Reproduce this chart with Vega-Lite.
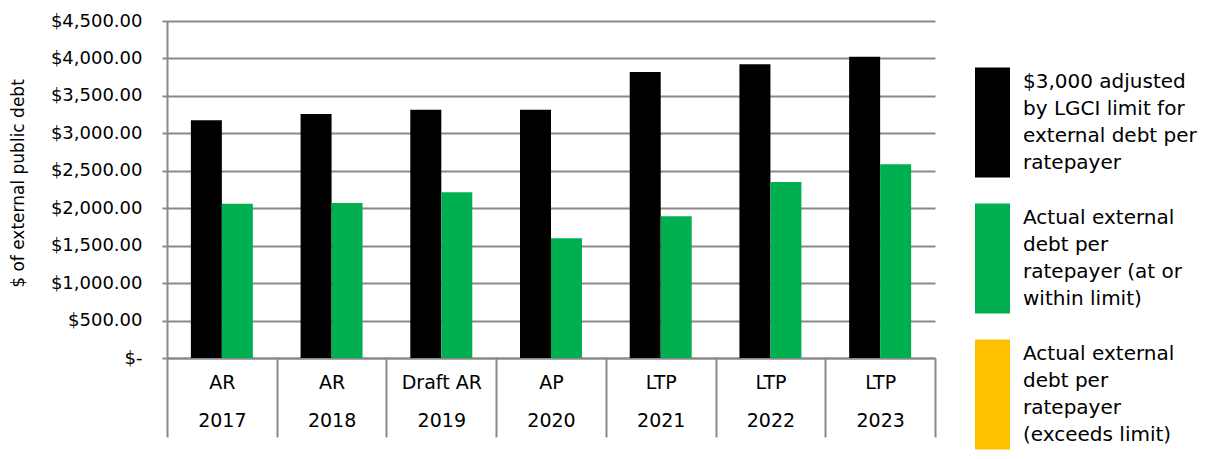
{
  "$schema": "https://vega.github.io/schema/vega-lite/v6.json",
  "width": 768,
  "height": 337,
  "autosize": {"type": "none"},
  "padding": {"left": 167, "top": 21, "right": 271, "bottom": 101},
  "background": "white",
  "config": {"view": {"stroke": null}, "style": {"guide-label": {"lineHeight": 27}}},
  "data": {
    "values": [
      {"year": "2017", "series": "limit", "value": 3174},
      {"year": "2017", "series": "within", "value": 2060},
      {"year": "2018", "series": "limit", "value": 3258},
      {"year": "2018", "series": "within", "value": 2070},
      {"year": "2019", "series": "limit", "value": 3316},
      {"year": "2019", "series": "within", "value": 2213},
      {"year": "2020", "series": "limit", "value": 3316},
      {"year": "2020", "series": "within", "value": 1600},
      {"year": "2021", "series": "limit", "value": 3819},
      {"year": "2021", "series": "within", "value": 1892},
      {"year": "2022", "series": "limit", "value": 3922},
      {"year": "2022", "series": "within", "value": 2350},
      {"year": "2023", "series": "limit", "value": 4023},
      {"year": "2023", "series": "within", "value": 2587}
    ]
  },
  "mark": {"type": "bar"},
  "encoding": {
    "x": {
      "field": "year",
      "type": "ordinal",
      "scale": {"paddingInner": 0, "paddingOuter": 0},
      "axis": {
        "title": null,
        "grid": false,
        "domain": true,
        "domainColor": "#8a8a8a",
        "domainWidth": 2,
        "ticks": true,
        "tickBand": "extent",
        "tickSize": 79,
        "tickWidth": 2,
        "tickColor": "#8a8a8a",
        "labelAngle": 0,
        "labelFont": "DejaVu Sans",
        "labelFontSize": 19,
        "labelColor": "#000000",
        "labelLineHeight": 38,
        "labelBaseline": "top",
        "labelPadding": -64,
        "labelExpr": "!datum.label ? '' : [datum.label == '2019' ? 'Draft AR' : datum.label == '2020' ? 'AP' : toNumber(datum.label) >= 2021 ? 'LTP' : 'AR', datum.label]"
      }
    },
    "xOffset": {"field": "series", "scale": {"domain": ["limit", "within"], "paddingInner": 0, "paddingOuter": 0.77}},
    "y": {
      "field": "value",
      "type": "quantitative",
      "scale": {"domain": [0, 4500], "nice": false},
      "axis": {
        "title": "$ of external public debt",
        "titleFont": "DejaVu Sans",
        "titleFontSize": 17,
        "titleFontWeight": "normal",
        "titleColor": "#000000",
        "titleX": -149,
        "titleY": 162,
        "titleAlign": "center",
        "titleBaseline": "middle",
        "titleAngle": -90,
        "values": [0, 500, 1000, 1500, 2000, 2500, 3000, 3500, 4000, 4500],
        "grid": true,
        "gridColor": "#8a8a8a",
        "gridWidth": 2,
        "domain": true,
        "domainColor": "#8a8a8a",
        "domainWidth": 2,
        "tickSize": 5,
        "tickWidth": 2,
        "tickColor": "#8a8a8a",
        "labelFont": "DejaVu Sans",
        "labelFontSize": 18,
        "labelColor": "#000000",
        "labelPadding": 20,
        "labelExpr": "datum.value == 0 ? '$-\u00a0\u00a0' : '$' + format(datum.value, ',.2f')"
      }
    },
    "color": {
      "field": "series",
      "type": "nominal",
      "scale": {"domain": ["limit", "within", "exceeds"], "range": ["#000000", "#00B050", "#FFC000"]},
      "legend": {
        "orient": "none",
        "legendX": 803,
        "legendY": 51,
        "title": null,
        "padding": 0,
        "symbolType": "M-1,-2.9L6,-2.9L6,19.1L-1,19.1Z",
        "symbolSize": 100,
        "symbolStrokeWidth": 0,
        "symbolOpacity": 1,
        "labelFont": "DejaVu Sans",
        "labelFontSize": 20,
        "labelColor": "#000000",
        "labelLimit": 400,
        "labelOffset": 33,
        "rowPadding": 25,
        "labelExpr": "datum.value == 'limit' ? ['$3,000 adjusted', 'by LGCI limit for', 'external debt per', 'ratepayer'] : datum.value == 'within' ? ['Actual external', 'debt per', 'ratepayer (at or', 'within limit)'] : ['Actual external', 'debt per', 'ratepayer', '(exceeds limit)']"
      }
    }
  }
}
